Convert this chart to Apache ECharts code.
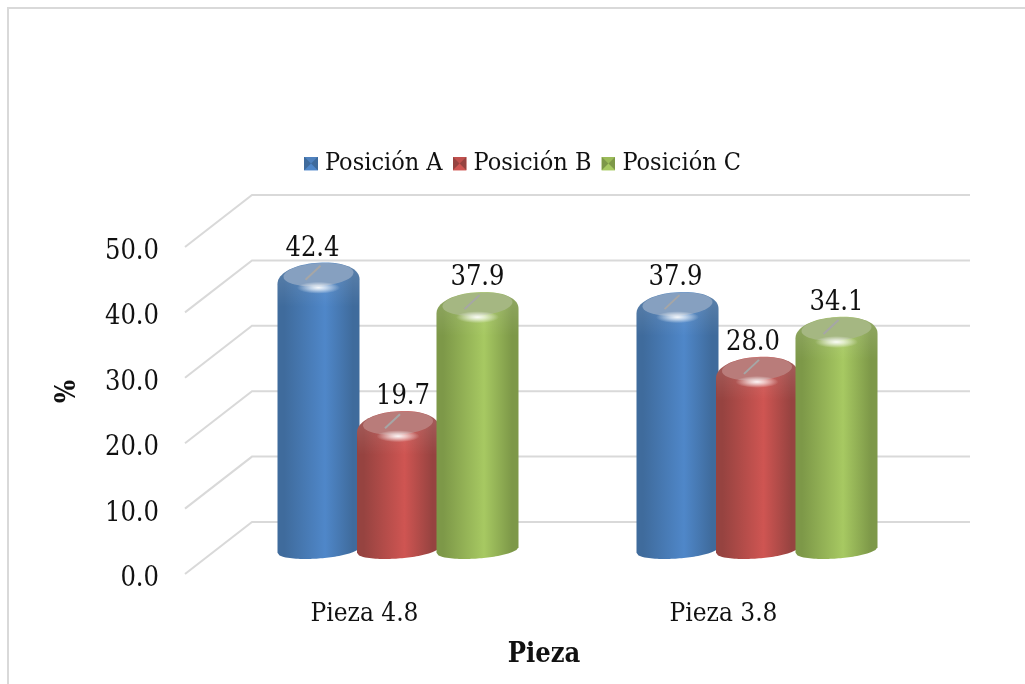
<!DOCTYPE html>
<html><head><meta charset="utf-8">
<style>html,body{margin:0;padding:0;background:#fff}#c{width:1025px;height:684px}</style>
<script src="https://cdn.jsdelivr.net/npm/echarts@6/dist/echarts.min.js"></script>
</head><body><div id="c"></div>
<script>
const categories = ['Pieza 4.8', 'Pieza 3.8'];
const seriesNames = ['Posición A', 'Posición B', 'Posición C'];
const valuesA = [42.4, 37.9];
const valuesB = [19.7, 28.0];
const valuesC = [37.9, 34.1];
const yTicks = [0, 10, 20, 30, 40, 50];
const allValues = [valuesA, valuesB, valuesC];

const FONT = '"DejaVu Serif Condensed","Liberation Serif",serif';
const palette = [
  {edge:'#3f6b9c', mid:'#4f87c9', face:'#86a0c0', main:'#4f81bd'},
  {edge:'#964340', mid:'#cf5552', face:'#b97c7a', main:'#c0504d'},
  {edge:'#7d9848', mid:'#a7c962', face:'#a5b782', main:'#9bbb59'}
];
const labelNudgeX = [[-6, -2], [5, -4], [0, 0]];
const depthX = 67, depthY = 52;
const groupShift = 33.5, spacing = 79.5, halfW = 41;

function pyramidIcon(c){
  const svg = `<svg xmlns="http://www.w3.org/2000/svg" width="14" height="14"><rect width="14" height="14" fill="${c.mid}"/><path d="M0 0L14 0L7 7Z" fill="${c.main}"/><path d="M0 14L14 14L7 7Z" fill="${c.mid}"/><path d="M0 0L0 14L7 7Z" fill="${c.edge}"/><path d="M14 0L14 14L7 7Z" fill="${c.edge}"/></svg>`;
  return 'image://data:image/svg+xml;charset=utf-8,' + encodeURIComponent(svg);
}

function barRenderer(idx){
  const c = palette[idx];
  return function(params, api){
    const cat = api.value(0), v = api.value(1);
    const pt = api.coord([cat, v]), base = api.coord([cat, 0]);
    const cx = pt[0] + groupShift + (idx - 1) * spacing;
    const cy = pt[1] - 20;
    const by = base[1] - 24;
    const pts = [];
    const N = 40;
    for (let i = 0; i <= N; i++) {
      const t = Math.PI - Math.PI * i / N;
      const dx = halfW * Math.sign(Math.cos(t)) * Math.pow(Math.abs(Math.cos(t)), 0.95);
      const dy = -19 * Math.pow(Math.sin(t), 0.95);
      pts.push([cx + dx, cy + 5 + dy - dx * 0.06]);
    }
    for (let i = 0; i <= N; i++) {
      const dx = halfW - 2 * halfW * i / N;
      pts.push([cx + dx, by - dx * 0.07 + 8.5 * Math.sqrt(Math.max(0, 1 - dx * dx / (halfW * halfW)))]);
    }
    const face = [];
    for (let i = 0; i < 48; i++) {
      const t = i / 48 * Math.PI * 2;
      const dx = 35 * Math.cos(t);
      face.push([cx + dx, cy - 2 + 11.5 * Math.sin(t) - dx * 0.06]);
    }
    const body = new echarts.graphic.LinearGradient(0, 0, 1, 0, [
      {offset: 0, color: c.edge}, {offset: 0.08, color: c.edge},
      {offset: 0.58, color: c.mid}, {offset: 0.92, color: c.edge}, {offset: 1, color: c.edge}
    ]);
    const shade = new echarts.graphic.LinearGradient(0, 0, 0, 1, [
      {offset: 0, color: 'rgba(255,255,255,0.16)'}, {offset: 1, color: 'rgba(255,255,255,0)'}
    ]);
    const shine = new echarts.graphic.RadialGradient(0.5, 0.5, 0.5, [
      {offset: 0, color: 'rgba(255,255,255,0.95)'}, {offset: 0.4, color: 'rgba(255,255,255,0.6)'},
      {offset: 1, color: 'rgba(255,255,255,0)'}
    ]);
    return {
      type: 'group',
      children: [
        {type: 'polygon', shape: {points: pts}, style: {fill: body}},
        {type: 'polygon', shape: {points: pts.slice(0, N + 1).concat([[cx + halfW - 1, cy + 30], [cx - halfW + 1, cy + 30]])}, style: {fill: shade}},
        {type: 'polygon', shape: {points: face}, style: {fill: c.face}},
        {type: 'circle', shape: {cx: 0, cy: 0, r: 6}, x: cx, y: cy + 11, scaleX: 3.6, scaleY: 1, style: {fill: shine}},
        {type: 'line', shape: {x1: cx - 13, y1: cy + 3, x2: cx + 2, y2: cy - 11}, style: {stroke: '#a6a6a6', lineWidth: 2}},
        {type: 'text', z2: 10, x: cx + labelNudgeX[idx][cat], y: cy - 28,
          style: {text: v.toFixed(1), fill: '#111', font: '27px ' + FONT, align: 'center', verticalAlign: 'middle'}}
      ]
    };
  };
}

const wallSeries = {
  name: 'Rejilla', type: 'custom', silent: true, z: 1, clip: false,
  data: yTicks.map(t => [0, t]),
  renderItem(params, api){
    const y = api.coord([0, api.value(1)])[1];
    const x0 = params.coordSys.x, w = params.coordSys.width;
    return {type: 'polyline', shape: {points: [[x0, y], [x0 + depthX, y - depthY], [x0 + w + depthX, y - depthY]]},
      style: {stroke: '#d9d9d9', lineWidth: 2, fill: 'none'}};
  }
};

const barSeries = seriesNames.map((name, i) => ({
  name, type: 'custom', z: 2 + i, clip: false, silent: true,
  itemStyle: {color: palette[i].main},
  data: allValues[i].map((v, k) => [k, v]),
  encode: {x: 0, y: 1},
  renderItem: barRenderer(i)
}));

const chart = echarts.init(document.getElementById('c'));
chart.setOption({
  animation: false,
  backgroundColor: '#fff',
  textStyle: {fontFamily: FONT},
  graphic: [{type: 'polyline', silent: true, shape: {points: [[8, 684], [8, 8], [1025, 8]]},
    style: {stroke: '#d9d9d9', lineWidth: 2, fill: 'none'}}],
  legend: {
    left: 299, top: 146, itemWidth: 14, itemHeight: 14, itemGap: 10, selectedMode: false,
    textStyle: {fontFamily: FONT, fontSize: 25, color: '#111', padding: [0, 0, 0, 2]},
    data: seriesNames.map((n, i) => ({name: n, icon: pyramidIcon(palette[i])}))
  },
  grid: {left: 185, top: 247, width: 718, height: 327, containLabel: false, outerBoundsMode: 'none'},
  xAxis: {
    type: 'category', data: categories,
    axisLine: {show: false}, axisTick: {show: false},
    axisLabel: {fontFamily: FONT, fontSize: 26, color: '#111', margin: 27},
    name: 'Pieza', nameLocation: 'middle', nameGap: 67,
    nameTextStyle: {fontFamily: FONT, fontSize: 27, fontWeight: 'bold', color: '#111'}
  },
  yAxis: {
    type: 'value', min: 0, max: 50, interval: 10,
    axisLine: {show: false}, axisTick: {show: false}, splitLine: {show: false},
    axisLabel: {
      margin: 26, color: '#111', fontFamily: FONT, fontSize: 27,
      formatter: v => '{t|' + v.toFixed(1) + '}',
      rich: {t: {fontFamily: FONT, fontSize: 27, color: '#111', padding: [10, 0, 0, 0]}}
    },
    name: '%', nameLocation: 'middle', nameGap: 104,
    nameTextStyle: {fontFamily: FONT, fontSize: 27, fontWeight: 'bold', color: '#111', padding: [0, 0, 0, 38]}
  },
  series: [wallSeries].concat(barSeries)
});
</script></body></html>
